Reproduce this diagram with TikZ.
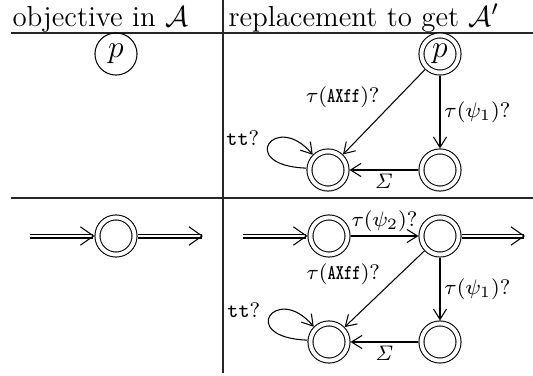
\documentclass[tikz,border=0pt]{standalone}
\usepackage{amsmath}
\usetikzlibrary{arrows.meta}
\tikzset{
  state/.style={circle,draw,line width=0.4pt,minimum size=16pt,inner sep=0pt,font=\large},
  accstate/.style={circle,draw,line width=0.4pt,double,double distance=1.5pt,minimum size=14.1pt,inner sep=0pt,outer sep=1.15pt,font=\large},
  trans/.style={-{Straight Barb[length=4pt,width=5pt]},line width=0.4pt},
  flow/.style={double,double distance=1.1pt,line width=0.4pt,-{Straight Barb[length=5pt,width=7pt,line width=0.4pt]}},
  translabel/.style={font=\footnotesize,inner sep=1.5pt},
  rule/.style={line width=0.5pt,black!85},
  headtext/.style={anchor=base west,inner sep=0pt,font=\fontsize{11}{13}\selectfont}
}
\newcommand{\axff}{\scalebox{0.75}[1]{\texttt{\bfseries AXff}}}
\begin{document}
\begin{tikzpicture}[x=0.38pt,y=-0.38pt]
  \useasboundingbox (0,0) rectangle (533,376);
  % table rules and header
  \draw[rule] (11,33) -- (533,33);
  \draw[rule] (11,198) -- (533,198);
  \draw[rule] (223,0) -- (223,373);
  \node[headtext] at (12,26) {objective in $\mathcal{A}$};
  \node[headtext] at (228,26) {replacement to get $\mathcal{A}'$};

  % first row
  \node[state] (objp) at (116,54) {$p$};
  \node[accstate] (repp) at (440,54) {$p$};
  \node[accstate] (repsink) at (328,170) {};
  \node[accstate] (repchk) at (440,170) {};
  \draw[trans] (repp) -- node[translabel,right] {$\tau(\psi_1)?$} (repchk);
  \draw[trans] (repp) -- node[translabel,above left] {$\tau(\axff)?$} (repsink);
  \draw[trans] (repchk) -- node[translabel,below] {$\mathit{\Sigma}$} (repsink);
  \draw[trans] (repsink.175) .. controls +(178:27pt) and +(130:22pt) .. node[translabel,pos=0.5,left=2pt,yshift=2pt] {\texttt{tt}?} (repsink.135);

  % second row
  \node[accstate] (objq) at (116,236) {};
  \coordinate (objin) at (30,236);
  \coordinate (objout) at (203,236);
  \draw[flow] (objin) -- (objq);
  \draw[flow] (objq) -- (objout);

  \node[accstate] (repq) at (329,236) {};
  \node[accstate] (repqq) at (440,236) {};
  \node[accstate] (repsinkb) at (329,342) {};
  \node[accstate] (repchkb) at (440,342) {};
  \coordinate (repin) at (243,236);
  \coordinate (repout) at (525,236);
  \draw[flow] (repin) -- (repq);
  \draw[flow] (repqq) -- (repout);
  \draw[trans] (repq) -- node[translabel,above] {$\tau(\psi_2)?$} (repqq);
  \draw[trans] (repqq) -- node[translabel,right] {$\tau(\psi_1)?$} (repchkb);
  \draw[trans] (repqq) -- node[translabel,above left] {$\tau(\axff)?$} (repsinkb);
  \draw[trans] (repchkb) -- node[translabel,below] {$\mathit{\Sigma}$} (repsinkb);
  \draw[trans] (repsinkb.175) .. controls +(178:27pt) and +(130:22pt) .. node[translabel,pos=0.5,left=2pt,yshift=2pt] {\texttt{tt}?} (repsinkb.135);
\end{tikzpicture}
\end{document}
